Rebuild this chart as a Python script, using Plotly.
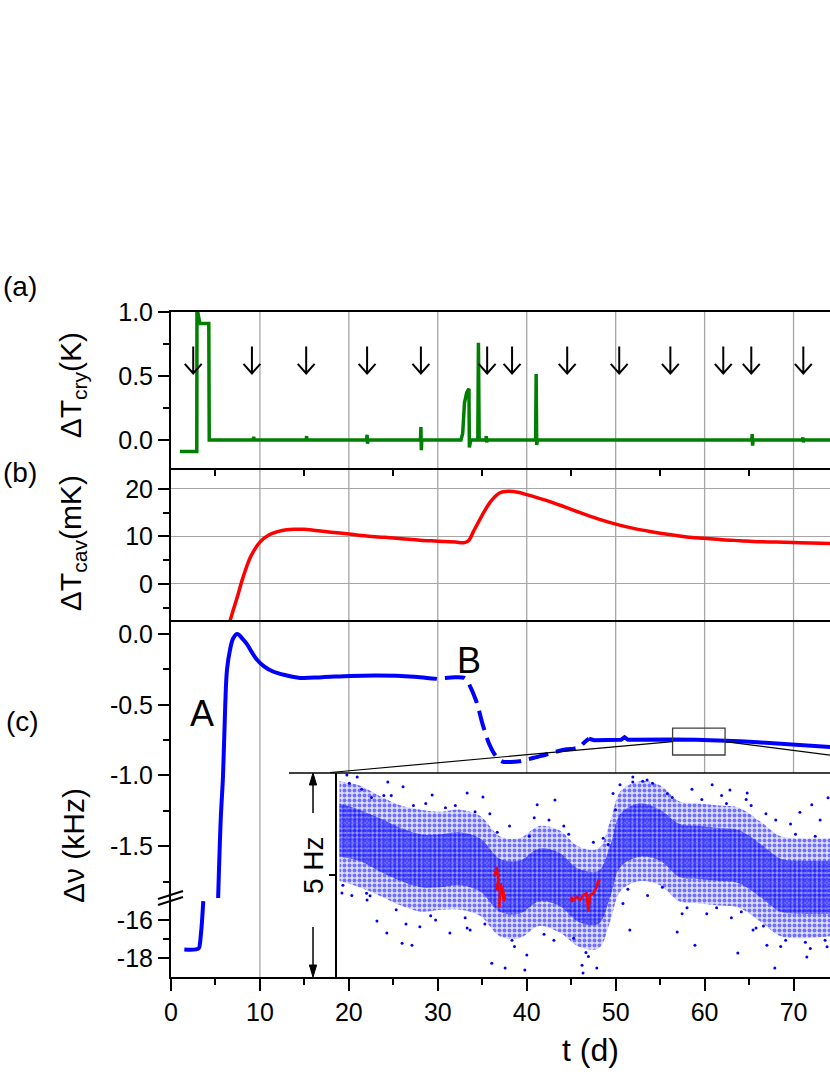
import plotly.graph_objects as go

# ---------------- (a) cryostat temperature excursions, K
t_cry = [1.0, 2.9, 2.92, 3.0, 3.25, 4.25, 4.3, 9.25, 9.3, 9.35, 15.2, 15.25, 15.3, 15.35,
         22.0, 22.05, 22.1, 22.15, 28.05, 28.1, 28.15, 28.2, 32.6, 32.8, 33.0, 33.25, 33.5,
         33.55, 33.7, 34.5, 34.57, 34.65, 35.4, 35.45, 35.5, 35.55, 41.0, 41.06, 41.12, 41.2,
         65.3, 65.35, 65.4, 65.45, 71.0, 71.05, 71.1, 71.15, 74.5]
dT_cry = [-0.09, -0.09, 1.0, 1.0, 0.91, 0.91, 0.0, 0.0, 0.025, 0.0, 0.0, 0.03, -0.01, 0.0,
          0.0, 0.04, -0.03, 0.0, 0.0, 0.1, -0.08, 0.0, 0.0, 0.05, 0.29, 0.37, 0.40,
          -0.06, 0.0, 0.0, 0.76, 0.0, 0.0, 0.03, -0.02, 0.0, 0.0, 0.515, -0.04, 0.0,
          0.0, 0.045, -0.045, 0.0, 0.0, 0.02, -0.02, 0.0, 0.0]
arrow_t = [2.5, 9.1, 15.2, 22.05, 28.1, 35.55, 38.35, 44.55, 50.4, 56.15, 62.1, 65.25, 71.1]

# ---------------- (b) cavity temperature, mK
t_cav = [6.6, 7.0, 7.5, 8.0, 8.5, 9.0, 10, 11, 12, 13, 14, 15, 16, 18, 20, 22, 24, 26, 28,
         30, 32, 33, 33.5, 34, 35, 36, 37, 38, 39, 40, 42, 44, 46, 48, 50, 52, 54, 56, 58,
         60, 62, 64, 66, 68, 70, 72, 74.5]
dT_cav = [-8.0, -5.5, -2.5, 0.8, 3.6, 5.9, 8.8, 10.3, 11.0, 11.4, 11.5, 11.5, 11.3, 10.9,
          10.5, 10.1, 9.8, 9.5, 9.2, 9.0, 8.8, 8.7, 9.2, 11.0, 14.5, 17.5, 19.2, 19.5, 19.3,
          18.8, 17.7, 16.4, 15.0, 13.7, 12.6, 11.7, 11.0, 10.4, 9.9, 9.6, 9.3, 9.1, 8.9, 8.8,
          8.7, 8.6, 8.5]

# ---------------- (c) frequency, kHz
t_nu_low = [1.5, 3.1, 3.25, 3.35, 3.45, 3.63]
nu_low = [-17.55, -17.5, -17.25, -16.8, -16.3, -15.0]

t_nu = [5.3, 5.6, 5.85, 6.1, 6.3, 6.64, 7.0, 7.46, 8.0, 8.52, 9.1, 9.64, 10.5, 11.47, 12.8,
        14.5, 17.0, 20.2, 23.0, 25.9, 28.0, 29.9]
nu = [-1.87, -1.3, -1.0, -0.5, -0.25, -0.11, -0.03, 0.0, -0.03, -0.07, -0.13, -0.18, -0.23,
      -0.265, -0.29, -0.31, -0.305, -0.296, -0.293, -0.296, -0.305, -0.317]

t_nu_b = [30.8, 32.0, 33.0, 33.3, 34.3, 35.05, 35.8, 36.5, 37.2, 38.0, 39.2, 40.2, 41.1,
          42.3, 43.4, 44.5, 45.3, 45.9, 46.5, 47.0]
nu_b = [-0.31, -0.305, -0.31, -0.33, -0.47, -0.64, -0.78, -0.86, -0.90, -0.905, -0.90, -0.885,
        -0.87, -0.85, -0.83, -0.815, -0.81, -0.80, -0.765, -0.74]

t_nu_tail = [47.0, 47.6, 50.6, 51.0, 51.4, 53.0, 56.4, 59.0, 62.0, 64.0, 66.0, 69.6, 72.0, 74.5]
nu_tail = [-0.74, -0.75, -0.748, -0.73, -0.748, -0.745, -0.745, -0.748, -0.75, -0.758, -0.765,
           -0.78, -0.79, -0.80]

label_A = (3.5, -0.563)
label_B = (33.5, -0.19)
zoom_box = (56.4, 62.3, -0.855, -0.665)

# ---------------- inset: frequency scatter, Hz (inset time in arbitrary hours)
ins_t = [0.5, 4.5, 8.5, 13, 17, 21, 25, 29, 33, 37, 41, 45, 49, 53, 55.5, 57.5, 61.5, 65.5,
         69.5, 73.5, 77.5, 81.5, 86, 90, 94, 100]
ins_outer_hi = [2.3, 2.2, 1.95, 1.7, 1.6, 1.55, 1.6, 1.45, 0.95, 0.9, 1.2, 1.1, 0.7, 0.65,
                1.35, 2.05, 2.3, 2.2, 1.8, 1.75, 1.7, 1.65, 1.3, 0.95, 0.9, 0.9]
ins_outer_lo = [-0.15, -0.3, -0.5, -0.75, -0.9, -0.85, -0.85, -1.0, -1.5, -1.55, -1.25, -1.4,
                -1.75, -1.8, -1.1, -0.4, -0.15, -0.25, -0.65, -0.7, -0.75, -0.8, -1.15, -1.5,
                -1.55, -1.5]
ins_core_hi = [1.75, 1.6, 1.4, 1.15, 1.0, 1.0, 1.05, 0.9, 0.4, 0.35, 0.65, 0.55, 0.15, 0.1,
               0.75, 1.5, 1.75, 1.6, 1.25, 1.2, 1.15, 1.1, 0.75, 0.4, 0.35, 0.35]
ins_core_lo = [0.45, 0.35, 0.1, -0.15, -0.3, -0.3, -0.25, -0.4, -0.9, -0.95, -0.65, -0.75,
               -1.15, -1.2, -0.5, 0.2, 0.45, 0.35, -0.05, -0.1, -0.15, -0.2, -0.55, -0.9,
               -0.95, -0.95]
ins_pts_t = [15.2, 26.4, 31.4, 34.1, 38.1, 38.5, 49.7, 49.9, 52.7, 72.6, 81.3, 88.8, 95.3, 99.4,
             57.4, 60.0, 62.9, 76.1, 79.7, 83.2, 93.9, 96.3, 99.6, 44.2, 40.6, 29.6, 26.4,
             19.3, 13.4, 59.4, 69.0, 84.4, 87.2, 22.9, 16.8, 1.0, 1.2, 8.1, 10.1, 13.2, 10.3,
             2.0, 4.1, 6.1, 6.7, 3, 5, 7, 11, 14, 18, 20, 24, 27, 31, 35, 36, 40, 43, 44, 47,
             51, 54, 56, 58, 60, 63, 64, 67, 70, 72, 75, 78, 80, 83, 85, 87, 90, 92, 96, 98,
             2.5, 6, 9.5, 12, 15.5, 19, 22, 26, 28, 30, 32.5, 35.5, 39, 42, 46, 48, 50.5,
             52, 55, 56.5, 59, 62, 66, 68, 71, 74, 77, 79, 82, 84, 86.5, 89, 91, 93, 95, 97, 99]
ins_pts_v = [-1.72, -1.30, -2.16, -2.28, -2.33, -1.96, -2.21, -2.40, -2.28, -1.72, -1.91, -2.28,
             -2.01, -1.76, 2.21, 2.28, 2.33, 2.21, 2.08, 2.01, 1.54, 1.72, 1.89, 1.84, 1.72,
             1.91, 2.01, 1.96, 2.16, -1.35, -1.40, -1.35, -1.72, -1.42, -1.27, -0.44, -0.25,
             -1.13, -1.42, -1.67, 2.28, 2.45, 2.40, -0.61, -0.51, -0.5, 2.1, 1.9, 1.95, -1.2,
             1.75, -1.1, 1.7, -1.35, 1.5, 1.2, -1.75, 1.4, 1.35, -1.6, 1.0, -2.0, 0.9, 2.0,
             -0.7, 2.4, -0.5, 2.25, 2.0, -0.95, 2.1, -0.95, 1.95, -1.05, 1.85, -1.3, 1.5, -1.75,
             1.25, -1.8, 1.35,
             2.25, -0.45, 1.95, -0.85, 1.7, -1.0, 1.65, -1.05, 1.55, -1.2, 1.05, -1.6, 0.95,
             -1.45, 1.2, -1.55, -1.9, 0.8, 0.75, 1.6, -0.35, 2.3, -0.3, 1.9, -0.8, 1.85, -0.8,
             1.75, -0.9, 1.7, -1.25, 1.35, -1.6, 1.0, -1.65, 0.95, -1.6]
ins_red1_t = [32.0, 32.4, 32.7, 32.3, 33.1, 32.9, 33.2, 33.6, 33.9, 33.5, 34.1]
ins_red1_v = [0.0, 0.20, -0.12, -0.37, -0.29, -0.81, -0.20, -0.49, -0.65, -0.29, -0.61]
ins_red2_t = [47.6, 47.6, 48.6, 49.3, 50.0, 50.6, 51.0, 51.3, 52.0, 52.3, 52.7, 53.0, 53.3]
ins_red2_v = [-0.53, -0.65, -0.53, -0.61, -0.49, -0.45, -0.90, -0.49, -0.45, -0.37, -0.29,
              -0.12, -0.16]

grid_t = [10, 20, 30, 40, 50, 60, 70]

# ---------------- geometry (plot area 171..830 x 312..977 px)
T_MAX = 74.1
D_C_LOW = [0, 0.1188]
D_C_UP = [0.1188, 0.5368]
D_B = [0.5368, 0.7654]
D_A = [0.7654, 1.0]
INSET_X0 = 0.2519
INSET_TOP = 0.3068
inset_t0 = INSET_X0 * T_MAX
SB_X = 0.2155  # x of the "5 Hz" scale bar (paper)

FONT = "Liberation Sans, Arial, sans-serif"
BLUE, RED, GREEN = "#0000ff", "#ff0000", "#008000"

fig = go.Figure()
fig.add_trace(go.Scatter(x=t_cry, y=dT_cry, xaxis="x4", yaxis="y4", mode="lines",
                         line=dict(color=GREEN, width=3.5)))
fig.add_trace(go.Scatter(x=t_cav, y=dT_cav, xaxis="x3", yaxis="y3", mode="lines",
                         line=dict(color=RED, width=3.5, shape="spline")))
fig.add_trace(go.Scatter(x=t_nu, y=nu, xaxis="x2", yaxis="y2", mode="lines",
                         line=dict(color=BLUE, width=4, shape="spline")))
fig.add_trace(go.Scatter(x=t_nu_b, y=nu_b, xaxis="x2", yaxis="y2", mode="lines",
                         line=dict(color=BLUE, width=4, dash="20px,8px", shape="spline")))
fig.add_trace(go.Scatter(x=t_nu_tail, y=nu_tail, xaxis="x2", yaxis="y2", mode="lines",
                         line=dict(color=BLUE, width=4)))
fig.add_trace(go.Scatter(x=t_nu_low, y=nu_low, xaxis="x", yaxis="y", mode="lines",
                         line=dict(color=BLUE, width=4, shape="spline")))

# inset: dense scatter cloud drawn as dotted bands plus loose points
for lo, hi, size, sol, bg in [(ins_outer_lo, ins_outer_hi, 5, 0.5, "rgba(0,0,255,0.12)"),
                              (ins_core_lo, ins_core_hi, 4, 0.6, "rgba(0,0,255,0.30)")]:
    fig.add_trace(go.Scatter(x=ins_t, y=lo, xaxis="x5", yaxis="y5", mode="lines",
                             line=dict(width=0, shape="spline"), hoverinfo="skip"))
    fig.add_trace(go.Scatter(x=ins_t, y=hi, xaxis="x5", yaxis="y5", mode="lines",
                             line=dict(width=0, shape="spline"), fill="tonexty",
                             fillcolor=bg,
                             fillpattern=dict(shape=".", fgcolor=BLUE, bgcolor=bg,
                                              size=size, solidity=sol)))
fig.add_trace(go.Scatter(x=ins_pts_t, y=ins_pts_v, xaxis="x5", yaxis="y5", mode="markers",
                         marker=dict(color=BLUE, size=3)))
for tt, vv in [(ins_red1_t, ins_red1_v), (ins_red2_t, ins_red2_v)]:
    fig.add_trace(go.Scatter(x=tt, y=vv, xaxis="x5", yaxis="y5", mode="lines",
                             line=dict(color=RED, width=2.5)))

tick = dict(color="black", size=25, family=FONT)
yax = dict(showline=True, linewidth=2, linecolor="black", ticks="outside", ticklen=11,
           tickwidth=2, tickcolor="black", tickfont=tick, zeroline=False, showgrid=False)
hidden_x = dict(range=[0, T_MAX], showticklabels=False, showgrid=False, zeroline=False)

fig.update_layout(
    width=830, height=1075,
    margin=dict(l=171, r=0, t=312, b=98),
    paper_bgcolor="white", plot_bgcolor="white",
    showlegend=False,
    font=dict(family=FONT, color="black"),
    xaxis=dict(range=[0, T_MAX], anchor="y", showline=True, linewidth=2, linecolor="black",
               ticks="outside", ticklen=12, tickwidth=2, tickcolor="black",
               tickvals=[0, 10, 20, 30, 40, 50, 60, 70], tickfont=tick,
               minor=dict(tickvals=[5, 15, 25, 35, 45, 55, 65], ticks="outside", ticklen=6,
                          tickwidth=2, tickcolor="black"),
               showgrid=False, zeroline=False),
    xaxis2=dict(hidden_x, anchor="y2", showline=False, ticks=""),
    xaxis3=dict(hidden_x, anchor="y3", showline=True, linewidth=2, linecolor="black",
                ticks=""),
    xaxis4=dict(hidden_x, anchor="y4", showline=True, mirror=True, linewidth=2,
                linecolor="black", ticks="outside", ticklen=6, tickwidth=1.5,
                tickcolor="black", tickvals=[5, 15, 25, 35, 45, 55, 65]),
    xaxis5=dict(domain=[INSET_X0, 1], range=[0, 100], anchor="y5", visible=False),
    yaxis=dict(yax, domain=D_C_LOW, anchor="x", range=[-19, -14.84],
               tickvals=[-18, -16], ticktext=["-18", "-16"],
               minor=dict(tickvals=[-17], ticks="outside", ticklen=6, tickwidth=2,
                          tickcolor="black")),
    yaxis2=dict(yax, domain=D_C_UP, anchor="x2", range=[-1.866, 0.099],
                tickvals=[0, -0.5, -1.0, -1.5], ticktext=["0.0", "-0.5", "-1.0", "-1.5"],
                minor=dict(tickvals=[-0.25, -0.75, -1.25, -1.75], ticks="outside",
                           ticklen=6, tickwidth=2, tickcolor="black")),
    yaxis3=dict(yax, domain=D_B, anchor="x3", range=[-7.6, 24.4],
                tickvals=[0, 10, 20], ticktext=["0", "10", "20"],
                showgrid=True, gridcolor="#a6a6a6", gridwidth=1.3,
                minor=dict(tickvals=[-5, 5, 15], ticks="outside", ticklen=6, tickwidth=2,
                           tickcolor="black")),
    yaxis4=dict(yax, domain=D_A, anchor="x4", range=[-0.22, 1.0],
                tickvals=[0, 0.5, 1.0], ticktext=["0.0", "0.5", "1.0"],
                minor=dict(tickvals=[0.25, 0.75], ticks="outside", ticklen=6, tickwidth=2,
                           tickcolor="black")),
    yaxis5=dict(domain=[0, INSET_TOP], anchor="x5", range=[-2.5, 2.5], showline=True,
                linewidth=1.5, linecolor="black", ticks="outside", ticklen=6, tickwidth=1.5,
                tickcolor="black", tickvals=[0], showticklabels=False, showgrid=False,
                zeroline=False),
)

shapes = []
for g in grid_t:
    shapes.append(dict(type="line", xref="x", yref="paper", x0=g, x1=g,
                       y0=0 if g < inset_t0 else INSET_TOP, y1=1,
                       line=dict(color="#a6a6a6", width=1.3), layer="below"))
for a in arrow_t:
    shapes.append(dict(type="path", xref="x4", yref="y4",
                       path=f"M{a},0.73 L{a},0.52 M{a - 0.95},0.595 L{a},0.52 L{a + 0.95},0.595",
                       line=dict(color="black", width=2)))
bx0, bx1, by0, by1 = zoom_box
shapes.append(dict(type="rect", xref="x2", yref="y2", x0=bx0, x1=bx1, y0=by0, y1=by1,
                   line=dict(color="#404040", width=1.3)))
by_mid = (by0 + by1) / 2
shapes.append(dict(type="line", xref="x2", yref="y2", x0=17.9, y0=-0.979, x1=bx0, y1=by_mid,
                   line=dict(color="black", width=1.2)))
shapes.append(dict(type="line", xref="x2", yref="y2", x0=bx1, y0=by_mid, x1=80, y1=-0.905,
                   line=dict(color="black", width=1.2)))
shapes.append(dict(type="line", xref="paper", yref="paper", x0=0.179, x1=1.0,
                   y0=INSET_TOP, y1=INSET_TOP, line=dict(color="black", width=1.5)))
# "5 Hz" scale bar arrows
for shaft0, shaft1, tip, base in [(0.2466, 0.2887, INSET_TOP, 0.2887), (0.0752, 0.018, 0, 0.018)]:
    shapes.append(dict(type="line", xref="paper", yref="paper", x0=SB_X, x1=SB_X,
                       y0=shaft0, y1=shaft1, line=dict(color="black", width=1.5)))
    shapes.append(dict(type="path", xref="paper", yref="paper",
                       path=f"M{SB_X - 0.0055},{base} L{SB_X},{tip} L{SB_X + 0.0055},{base} Z",
                       fillcolor="black", line=dict(color="black", width=1)))
# axis break marks
for yb in [0.1083, 0.1173]:
    shapes.append(dict(type="line", xref="paper", yref="paper", x0=-0.0197, x1=0.0182,
                       y0=yb, y1=yb + 0.012, line=dict(color="black", width=2)))
fig.update_layout(shapes=shapes)

ann = []
def text(x, y, s, size, angle=0, xref="paper", yref="paper"):
    ann.append(dict(x=x, y=y, xref=xref, yref=yref, text=s, showarrow=False,
                    textangle=angle, xanchor="center", yanchor="middle",
                    font=dict(size=size, family=FONT, color="black")))

text(-0.229, 1.0376, "(a)", 28)
text(-0.229, 0.758, "(b)", 28)
text(-0.226, 0.3835, "(c)", 28)
text(-0.150, 0.890, "ΔT<sub>cry</sub>(K)", 30, -90)
text(-0.150, 0.6526, "ΔT<sub>cav</sub>(mK)", 30, -90)
text(-0.147, 0.197, "Δν (kHz)", 30, -90)
text(0.637, -0.1098, "t (d)", 32)
text(label_A[0], label_A[1], "A", 36, xref="x2", yref="y2")
text(label_B[0], label_B[1], "B", 36, xref="x2", yref="y2")
text(SB_X, 0.1684, "5 Hz", 28, -90)
fig.update_layout(annotations=ann)

# the page body has a default 8px margin; drop it so the figure sits at the window corner
fig.write_html("out.html", config={"displayModeBar": False},
               post_script="document.body.style.margin = '0px';")
